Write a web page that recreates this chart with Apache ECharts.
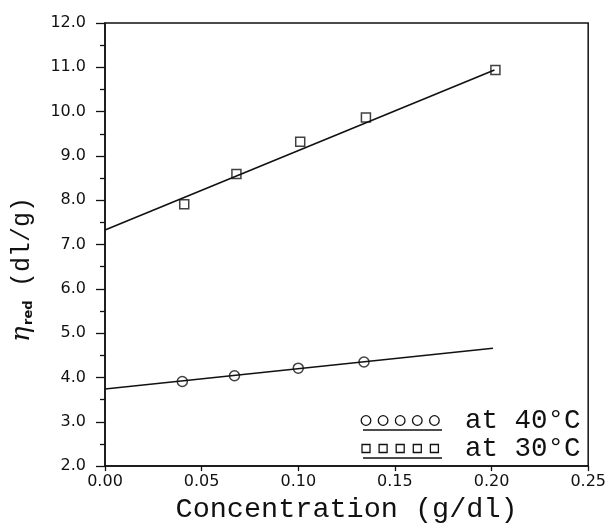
<!DOCTYPE html>
<html>
<head>
<meta charset="utf-8">
<style>
  html, body { margin: 0; padding: 0; background: #fff; }
  #chart { width: 609px; height: 529px; }
</style>
<script src="https://cdn.jsdelivr.net/npm/echarts@6/dist/echarts.min.js"></script>
</head>
<body>
<div id="chart"></div>
<script>
// Reduced viscosity vs. concentration at two temperatures
const conc30 = [0.041, 0.068, 0.101, 0.135, 0.202];
const eta30  = [7.91, 8.59, 9.32, 9.87, 10.94];
const conc40 = [0.040, 0.067, 0.100, 0.134];
const eta40  = [3.91, 4.04, 4.21, 4.35];

// Linear fits (extrapolated to zero concentration)
const fit30X = [0, 0.2015];
const fit30Y = [7.33, 10.94];
const fit40X = [0, 0.2007];
const fit40Y = [3.74, 4.66];

const xTicks = { min: 0, max: 0.25, interval: 0.05 };
const yTicks = { min: 2, max: 12, interval: 1 };

const legendLabels = ['at 40°C', 'at 30°C'];

const pairs = (xs, ys) => xs.map((x, i) => [x, ys[i]]);

const chart = echarts.init(document.getElementById('chart'), null, { renderer: 'canvas' });

const tickFont = { fontFamily: 'DejaVu Sans', fontSize: 16, color: '#111' };
const monoFont = 'Liberation Mono';
const ink = '#111';

// legend glyph rows: five markers over an underline
function legendRow(y, shape, label) {
  const kids = [];
  for (let i = 0; i < 5; i++) {
    const cx = 366 + i * 17.1;
    if (shape === 'circle') {
      kids.push({ type: 'circle', shape: { cx: cx, cy: y, r: 4.8 },
        style: { fill: 'none', stroke: ink, lineWidth: 1.3 } });
    } else {
      kids.push({ type: 'rect', shape: { x: cx - 4, y: y - 4, width: 8, height: 8 },
        style: { fill: 'none', stroke: ink, lineWidth: 1.3 } });
    }
  }
  kids.push({ type: 'line', shape: { x1: 363, y1: y + 9.5, x2: 442, y2: y + 9.5 },
    style: { stroke: ink, lineWidth: 1.3 } });
  kids.push({ type: 'text', x: 465, y: y, style: { text: label, fontFamily: monoFont,
    fontSize: 27.5, fill: ink, verticalAlign: 'middle', align: 'left' } });
  return kids;
}

const option = {
  animation: false,
  backgroundColor: '#fff',
  grid: { left: 105, right: 16, top: 23, bottom: 58, show: true,
    borderColor: ink, borderWidth: 1.5, backgroundColor: 'transparent' },
  xAxis: {
    type: 'value', min: xTicks.min, max: xTicks.max, interval: xTicks.interval,
    name: 'Concentration (g/dl)', nameLocation: 'middle', nameGap: 21,
    nameTextStyle: { fontFamily: monoFont, fontSize: 28.5, color: ink },
    axisLine: { lineStyle: { color: ink, width: 1.5 } },
    axisTick: { show: true, inside: false, length: 5, lineStyle: { color: ink, width: 1.3 } },
    axisLabel: Object.assign({ margin: 8, formatter: v => v.toFixed(2) }, tickFont),
    splitLine: { show: false }
  },
  yAxis: {
    type: 'value', min: yTicks.min, max: yTicks.max, interval: yTicks.interval,
    axisLine: { lineStyle: { color: ink, width: 1.5 } },
    axisTick: { show: true, inside: false, length: 9, lineStyle: { color: ink, width: 1.3 } },
    minorTick: { show: true, splitNumber: 2, length: 5, lineStyle: { color: ink, width: 1.3 } },
    axisLabel: Object.assign({ margin: 19, formatter: v => v.toFixed(1) }, tickFont),
    splitLine: { show: false }
  },
  series: [
    { name: 'fit 30', type: 'line', data: pairs(fit30X, fit30Y), symbol: 'none',
      lineStyle: { color: ink, width: 1.6 }, silent: true },
    { name: 'fit 40', type: 'line', data: pairs(fit40X, fit40Y), symbol: 'none',
      lineStyle: { color: ink, width: 1.6 }, silent: true },
    { name: '30°C', type: 'scatter', data: pairs(conc30, eta30), symbol: 'rect', symbolSize: 9,
      itemStyle: { color: '#fff', borderColor: ink, borderWidth: 1.5 } },
    { name: '40°C', type: 'scatter', data: pairs(conc40, eta40), symbol: 'circle', symbolSize: 10,
      itemStyle: { color: '#fff', borderColor: ink, borderWidth: 1.5 } }
  ],
  graphic: [
    // y-axis title: eta_red (dl/g), reading bottom to top
    { type: 'group', x: 22, y: 342, rotation: Math.PI / 2, children: [
      { type: 'text', x: 0, y: 0, style: { text: 'η', fontFamily: 'DejaVu Serif', fontStyle: 'italic',
        fontSize: 26, fill: ink, verticalAlign: 'middle', align: 'left' } },
      { type: 'text', x: 17, y: 7, style: { text: 'red', fontFamily: 'DejaVu Sans', fontWeight: 'bold',
        fontSize: 13, fill: ink, verticalAlign: 'middle', align: 'left' } },
      { type: 'text', x: 55, y: 0, style: { text: '(dl/g)', fontFamily: monoFont,
        fontSize: 25, fill: ink, verticalAlign: 'middle', align: 'left' } }
    ]},
    { type: 'group', children: legendRow(420.5, 'circle', legendLabels[0]) },
    { type: 'group', children: legendRow(448.5, 'rect', legendLabels[1]) }
  ]
};

chart.setOption(option);
</script>
</body>
</html>
